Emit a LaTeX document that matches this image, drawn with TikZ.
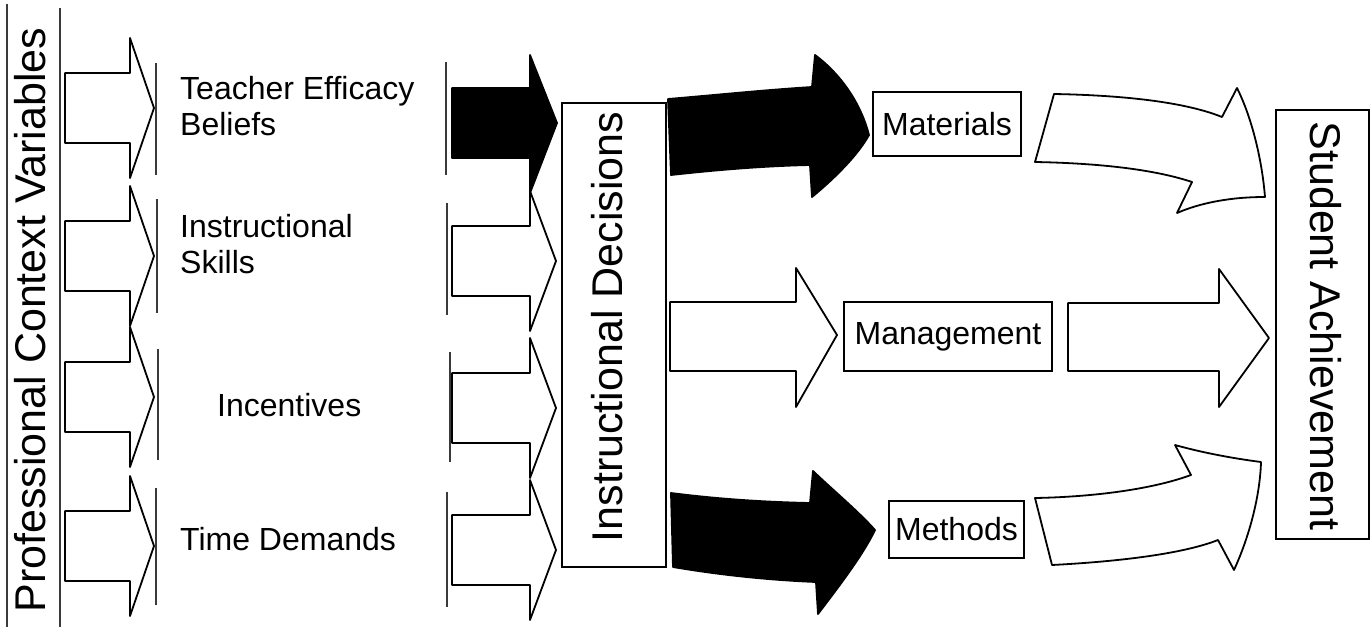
\documentclass[tikz,border=0pt]{standalone}
\usepackage{fontspec}
\setmainfont{Liberation Sans}
\usepackage{xcolor}
\usepackage{tikz}
\definecolor{ink}{HTML}{000000}
\definecolor{faint}{HTML}{3A3A3A}
\tikzset{
  frame/.style={draw=ink, line width=1.6pt, fill=white},
  boxtxt/.style={font=\fontsize{32}{36}\selectfont, inner sep=0pt},
  bigtxt/.style={font=\fontsize{43}{50}\selectfont, inner sep=0pt},
  lab/.style={font=\fontsize{32}{36}\selectfont, align=left, inner sep=0pt},
  sideline/.style={draw=faint, line width=1.1pt},
  warrow/.style={draw=ink, line width=1.8pt, fill=white, line join=round},
  barrow/.style={draw=ink, line width=1.8pt, fill=ink, line join=round}
}

\begin{document}
\begin{tikzpicture}[x=1pt, y=-1pt]
  \useasboundingbox (0,0) rectangle (1371,629);

  % left title
  \node[bigtxt, rotate=90, anchor=base] (prof) at (45,320) {Professional Context Variables};
  \draw[sideline] (7,4) -- (7,627);
  \draw[sideline] (60,8) -- (60,627);

  % first column of arrows
  \foreach \y in {108,256,397,546}
    \draw[warrow] (65,\y-35) -- (130,\y-35) -- (130,\y-70) -- (154,\y)
      -- (130,\y+70) -- (130,\y+35) -- (65,\y+35) -- cycle;

  % text boxes edges
  \foreach \x/\a/\b in {156/63/175, 157/199/313, 158/349/460, 156/488/605,
                        446/62/175, 447/203/315, 450/352/462, 447/492/607}
    \draw[sideline] (\x,\a) -- (\x,\b);

  \node[lab, anchor=west] (eff) at (180,106) {Teacher Efficacy\\Beliefs};
  \node[lab, anchor=west] (skl) at (180,244) {Instructional\\Skills};
  \node[lab, anchor=base west] (inc) at (217,416) {Incentives};
  \node[lab, anchor=base west] (tim) at (180,550) {Time Demands};

  % second column of arrows
  \foreach \y in {261,408,550}
    \draw[warrow] (452,\y-35) -- (530,\y-35) -- (530,\y-70) -- (556,\y)
      -- (530,\y+70) -- (530,\y+35) -- (452,\y+35) -- cycle;
  \draw[barrow] (452,88) -- (530,88) -- (530,55) -- (557,123)
    -- (530,193) -- (530,158) -- (452,158) -- cycle;

  % decisions
  \node[frame, minimum width=104, minimum height=464] (dec) at (614,335) {};
  \node[bigtxt, rotate=90, anchor=base] (dectxt) at (622,327) {Instructional Decisions};

  \node[frame, boxtxt, minimum width=148, minimum height=64] (mat) at (947,124) {Materials};
  \node[frame, boxtxt, minimum width=208, minimum height=69] (man) at (948,336.5) {Management};
  \node[frame, boxtxt, minimum width=135, minimum height=57] (meth) at (956.5,529.5) {Methods};

  \draw[barrow] (668,99) .. controls (716,95) and (764,90) .. (812,87)
    -- (815,55) .. controls (838,72) and (860,100) .. (869,135)
    .. controls (858,155) and (835,178) .. (812,197)
    -- (810,165) .. controls (764,166) and (716,170) .. (671,175) -- cycle;
  \draw[warrow] (670,302) -- (796,302) -- (796,268) -- (837,335)
    -- (796,407) -- (796,371) -- (670,371) -- cycle;
  \draw[barrow] (671,493) .. controls (718,499) and (764,502) .. (810,503)
    -- (813,471) .. controls (835,492) and (858,511) .. (875,530)
    .. controls (863,555) and (840,585) .. (818,614)
    -- (816,582) .. controls (768,580) and (720,575) .. (673,567) -- cycle;

  % towards achievement
  \draw[warrow] (1054,94) .. controls (1110,95) and (1180,100) .. (1222,117)
    -- (1237,88) .. controls (1252,118) and (1262,160) .. (1265,197)
    .. controls (1230,197) and (1200,203) .. (1177,213)
    -- (1192,182) .. controls (1150,168) and (1090,163) .. (1035,162) -- cycle;
  \draw[warrow] (1068,303) -- (1219,303) -- (1219,269) -- (1269,338)
    -- (1219,407) -- (1219,371) -- (1068,371) -- cycle;
  \draw[warrow] (1052,565) .. controls (1110,562) and (1180,555) .. (1218,540)
    -- (1234,570) .. controls (1250,535) and (1260,495) .. (1261,462)
    .. controls (1230,458) and (1200,452) .. (1175,445)
    -- (1191,475) .. controls (1150,490) and (1090,497) .. (1035,498) -- cycle;

  \node[frame, minimum width=93, minimum height=429] (ach) at (1322.5,324.5) {};
  \node[bigtxt, rotate=-90, anchor=base] (achtxt) at (1310,326) {Student Achievement};
\end{tikzpicture}
\end{document}
